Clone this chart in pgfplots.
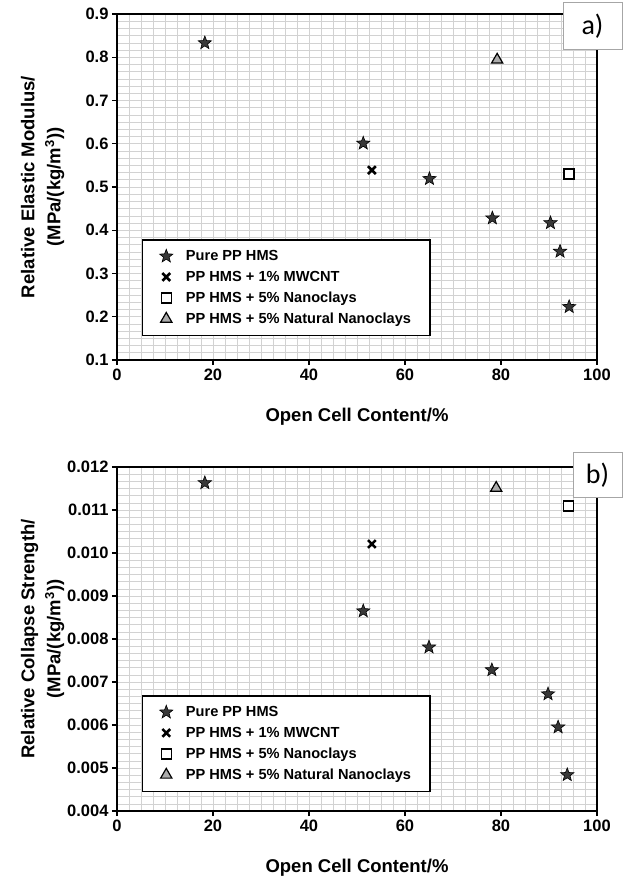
\documentclass[border=0pt]{standalone}
\usepackage{fontspec}
\setmainfont{Liberation Sans}
\newfontfamily\calibri{Carlito}
\usepackage{pgfplots}
\pgfplotsset{compat=1.18}
\usetikzlibrary{plotmarks}

\pgfdeclareplotmark{fstar}{%
  \pgfpathmoveto{\pgfpointpolar{90}{\pgfplotmarksize}}%
  \pgfpathlineto{\pgfpointpolar{126}{0.42\pgfplotmarksize}}%
  \pgfpathlineto{\pgfpointpolar{162}{\pgfplotmarksize}}%
  \pgfpathlineto{\pgfpointpolar{198}{0.42\pgfplotmarksize}}%
  \pgfpathlineto{\pgfpointpolar{234}{\pgfplotmarksize}}%
  \pgfpathlineto{\pgfpointpolar{270}{0.42\pgfplotmarksize}}%
  \pgfpathlineto{\pgfpointpolar{306}{\pgfplotmarksize}}%
  \pgfpathlineto{\pgfpointpolar{342}{0.42\pgfplotmarksize}}%
  \pgfpathlineto{\pgfpointpolar{18}{\pgfplotmarksize}}%
  \pgfpathlineto{\pgfpointpolar{54}{0.42\pgfplotmarksize}}%
  \pgfpathclose
  \pgfusepathqfillstroke}

\pgfplotsset{
  common/.style={
    scale only axis, width=480pt,
    xmin=0, xmax=100, xtick={0,20,...,100},
    minor x tick num=7,
    grid=both,
    major grid style={gray!35, line width=0.6pt},
    minor grid style={gray!35, line width=0.6pt},
    minor tick length=0pt,
    major tick length=5pt,
    tick align=outside, tick pos=left,
    axis line style={line width=1.4pt},
    major tick style={line width=1.3pt, black},
    /pgf/number format/assume math mode=true,
    tick label style={font=\bfseries\fontsize{16.5}{16.5}\selectfont},
    label style={font=\bfseries\fontsize{18.5}{22}\selectfont},
    xlabel={Open Cell Content/\%},
    xlabel style={at={(axis description cs:0.5,-0.165)}, anchor=center},
    ylabel style={at={(axis description cs:-0.155,0.5)}, anchor=center, align=center},
    legend cell align=left,
    legend style={draw=black, line width=1.3pt, fill=white,
      font=\bfseries\fontsize{14.6}{14.6}\selectfont,
      inner xsep=17pt, inner ysep=8.5pt, row sep=5pt,
      /tikz/every odd column/.append style={column sep=11pt}},
    scaled y ticks=false,
  },
  starst/.style={only marks, mark=fstar, mark size=7pt, mark options={fill=black!78, draw=black, line width=0.6pt}},
  xst/.style={only marks, mark=x, mark size=5.5pt, mark options={draw=black, line width=2.6pt}},
  sqst/.style={only marks, mark=square*, mark size=5pt, mark options={fill=white, draw=black, line width=1.4pt}},
  trist/.style={only marks, mark=triangle*, mark size=6.5pt, mark options={fill=gray!65, draw=black, line width=1.2pt}},
}

\begin{document}
\begin{tikzpicture}
\useasboundingbox (0,0) rectangle (623pt,879pt);

% ---------------- a) ----------------
\begin{axis}[common,
  at={(117pt,519pt)}, anchor=south west, height=346pt,
  ymin=0.1, ymax=0.9, ytick={0.1,0.2,...,0.9},
  minor y tick num=5,
  yticklabel style={/pgf/number format/.cd, fixed, fixed zerofill, precision=1},
  ylabel={Relative Elastic Modulus/\\[4pt](MPa/(kg/m\textsuperscript{3}))},
  legend style={at={(0.052,0.069)}, anchor=south west},
]
\addplot[starst] coordinates {(18.3,0.833) (51.3,0.601) (65.1,0.519) (78.2,0.428) (90.3,0.417) (92.3,0.351) (94.2,0.223)};
\addlegendentry{Pure PP HMS}
\addplot[xst] coordinates {(53.1,0.539)};
\addlegendentry{PP HMS + 1\% MWCNT}
\addplot[sqst] coordinates {(94.2,0.530)};
\addlegendentry{PP HMS + 5\% Nanoclays}
\addplot[trist] coordinates {(79.2,0.794)};
\addlegendentry{PP HMS + 5\% Natural Nanoclays}
\end{axis}

% ---------------- b) ----------------
\begin{axis}[common,
  at={(117pt,68pt)}, anchor=south west, height=344pt,
  ymin=0.004, ymax=0.012, ytick={0.004,0.005,...,0.012},
  minor y tick num=5,
  yticklabel style={/pgf/number format/.cd, fixed, fixed zerofill, precision=3},
  ylabel={Relative Collapse Strength/\\[4pt](MPa/(kg/m\textsuperscript{3}))},
  legend style={at={(0.052,0.055)}, anchor=south west},
]
\addplot[starst] coordinates {(18.3,0.01163) (51.3,0.00865) (65.0,0.00781) (78.1,0.00728) (89.8,0.00672) (91.9,0.00595) (93.8,0.00484)};
\addlegendentry{Pure PP HMS}
\addplot[xst] coordinates {(53.1,0.01021)};
\addlegendentry{PP HMS + 1\% MWCNT}
\addplot[sqst] coordinates {(94.0,0.01109)};
\addlegendentry{PP HMS + 5\% Nanoclays}
\addplot[trist] coordinates {(79.0,0.01151)};
\addlegendentry{PP HMS + 5\% Natural Nanoclays}
\end{axis}

\node[draw=gray!70, line width=1pt, fill=white, minimum width=59pt, minimum height=47pt,
  font=\calibri\fontsize{28}{28}\selectfont] at (592.5pt,852.5pt) {a)};
\node[draw=gray!70, line width=1pt, fill=white, minimum width=49pt, minimum height=45pt,
  font=\calibri\fontsize{28}{28}\selectfont] at (597.5pt,403.5pt) {b)};
\end{tikzpicture}
\end{document}
